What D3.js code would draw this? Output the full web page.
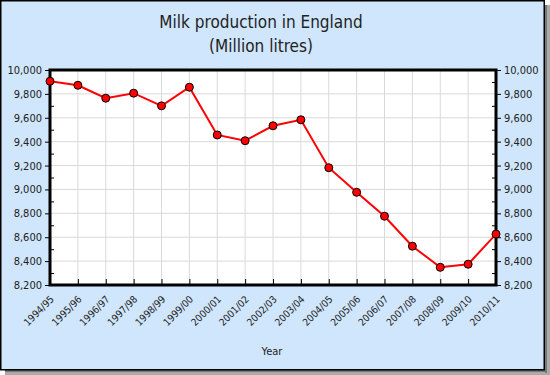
<!DOCTYPE html>
<meta charset="utf-8">
<head>
  <title>Milk production in England</title>
</head>

<style>
body {
  margin: 0;
  background: #fff;
}
svg text {
  font-family: "DejaVu Sans Condensed", "DejaVu Sans", sans-serif;
  fill: #222;
}
</style>

<body>
  <svg width="550" height="375"></svg>

  <script src="https://cdnjs.cloudflare.com/ajax/libs/d3/7.8.5/d3.min.js"></script>

  <script>
// DATA
var years = ['1994/95', '1995/96', '1996/97', '1997/98', '1998/99', '1999/00',
  '2000/01', '2001/02', '2002/03', '2003/04', '2004/05', '2005/06',
  '2006/07', '2007/08', '2008/09', '2009/10', '2010/11'];
var production = [9906, 9872, 9764, 9806, 9700, 9856, 9456, 9408, 9533,
  9583, 9182, 8976, 8776, 8525, 8348, 8374, 8626];
var yTicks = [8200, 8400, 8600, 8800, 9000, 9200, 9400, 9600, 9800, 10000];
var yMinorTicks = [8300, 8500, 8700, 8900, 9100, 9300, 9500, 9700, 9900];

var svg = d3.select('svg');

// plot box (note: "top" is taken by window.top)
var plotLeft = 50, plotRight = 496, plotTop = 70, plotBottom = 285;

var x = d3.scalePoint()
  .domain(years)
  .range([plotLeft, plotRight]);

var y = d3.scaleLinear()
  .domain([8200, 10000])
  .range([plotBottom, plotTop]);

// shadow + frame
svg.append('rect').attr('x', 545).attr('y', 5).attr('width', 5).attr('height', 370).attr('fill', '#aaa');
svg.append('rect').attr('x', 5).attr('y', 370).attr('width', 545).attr('height', 5).attr('fill', '#aaa');
svg.append('rect').attr('x', 545).attr('y', 5).attr('width', 2).attr('height', 368).attr('fill', '#777');
svg.append('rect').attr('x', 5).attr('y', 370).attr('width', 542).attr('height', 2).attr('fill', '#777');
svg.append('rect')
  .attr('x', 0.75).attr('y', 0.75)
  .attr('width', 543.5).attr('height', 369)
  .attr('fill', '#d0e6fc')
  .attr('stroke', '#000')
  .attr('stroke-width', 1.5);

// title
svg.append('text')
  .attr('x', 261).attr('y', 28)
  .attr('text-anchor', 'middle')
  .style('font-size', '17px')
  .text('Milk production in England');
svg.append('text')
  .attr('x', 261).attr('y', 52)
  .attr('text-anchor', 'middle')
  .style('font-size', '17px')
  .text('(Million litres)');

// plot area
svg.append('rect')
  .attr('x', plotLeft).attr('y', plotTop)
  .attr('width', plotRight - plotLeft).attr('height', plotBottom - plotTop)
  .attr('fill', '#fff');

// grid
svg.append('g')
  .selectAll('line')
  .data(yTicks)
  .join('line')
  .attr('x1', plotLeft).attr('x2', plotRight)
  .attr('y1', function(d) { return y(d); })
  .attr('y2', function(d) { return y(d); })
  .attr('stroke', '#d9d9d9');

svg.append('g')
  .selectAll('line')
  .data(years)
  .join('line')
  .attr('x1', function(d) { return x(d); })
  .attr('x2', function(d) { return x(d); })
  .attr('y1', plotTop).attr('y2', plotBottom)
  .attr('stroke', '#d9d9d9');

// axes
var fmt = d3.format(',');

var leftAxis = svg.append('g')
  .attr('transform', 'translate(' + plotLeft + ',0)')
  .call(d3.axisLeft(y).tickValues(yTicks).tickFormat(fmt).tickSize(5).tickPadding(3));

var rightAxis = svg.append('g')
  .attr('transform', 'translate(' + plotRight + ',0)')
  .call(d3.axisRight(y).tickValues(yTicks).tickFormat(fmt).tickSize(5).tickPadding(3));

// minor ticks inside
var minorL = svg.append('g')
  .attr('transform', 'translate(' + plotLeft + ',0)')
  .call(d3.axisRight(y).tickValues(yMinorTicks).tickFormat('').tickSize(4).tickSizeOuter(0));
var minorR = svg.append('g')
  .attr('transform', 'translate(' + plotRight + ',0)')
  .call(d3.axisLeft(y).tickValues(yMinorTicks).tickFormat('').tickSize(4).tickSizeOuter(0));

var bottomAxis = svg.append('g')
  .attr('transform', 'translate(0,' + plotBottom + ')')
  .call(d3.axisBottom(x).tickSize(-6).tickPadding(0));

bottomAxis.selectAll('text')
  .attr('text-anchor', 'end')
  .attr('y', 0)
  .attr('dy', 0)
  .attr('transform', 'translate(4,15) rotate(-45)');

[leftAxis, rightAxis, minorL, minorR].forEach(function(a) {
  a.selectAll('text').style('font-size', '11px').attr('fill', '#222');
});
bottomAxis.selectAll('text').style('font-size', '10px').attr('fill', '#222');

[leftAxis, rightAxis, bottomAxis, minorL, minorR].forEach(function(a) {
  a.selectAll('line').attr('stroke', '#000');
  a.select('.domain').remove();
});

// plot border
svg.append('rect')
  .attr('x', plotLeft).attr('y', plotTop)
  .attr('width', plotRight - plotLeft).attr('height', plotBottom - plotTop)
  .attr('fill', 'none')
  .attr('stroke', '#000')
  .attr('stroke-width', 3);

// line
var line = d3.line()
  .x(function(d, i) { return x(years[i]); })
  .y(function(d) { return y(d); });

svg.append('path')
  .datum(production)
  .attr('d', line)
  .attr('fill', 'none')
  .attr('stroke', '#ff0000')
  .attr('stroke-width', 2);

svg.append('g')
  .selectAll('circle')
  .data(production)
  .join('circle')
  .attr('cx', function(d, i) { return x(years[i]); })
  .attr('cy', function(d) { return y(d); })
  .attr('r', 4)
  .attr('fill', '#ff0000')
  .attr('stroke', '#000')
  .attr('stroke-width', 1);

// axis title
svg.append('text')
  .attr('x', 272).attr('y', 355)
  .attr('text-anchor', 'middle')
  .style('font-size', '11px')
  .text('Year');
  </script>
</body>
</html>
